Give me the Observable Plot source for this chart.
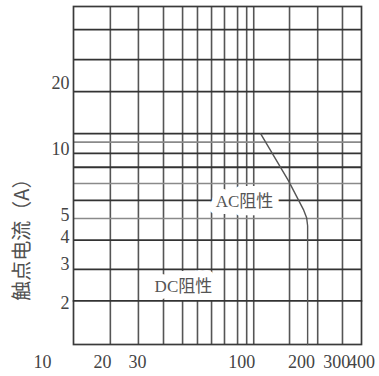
<!DOCTYPE html>
<html><head><meta charset="utf-8">
<script src="https://cdn.jsdelivr.net/npm/d3@7"></script>
<script src="https://cdn.jsdelivr.net/npm/@observablehq/plot@0.6"></script>
<style>html,body{margin:0;padding:0;background:#fff} #chart svg{display:block}</style>
</head><body><div id="chart"></div>
<script>
// Log-log relay contact load chart: x = contact voltage (V), y = contact current (A)
const xDomain = [14.3, 400];
const yDomain = [1.30, 44.6];
// grid lines
const xGrid = [21.9, 30.3, 40.5, 50.5, 60, 70.6, 82, 95.4, 106, 115, 174, 241, 321];
const yGridDark = [2.85, 3.87, 5.87, 8.3, 9.6, 11.8, 18.3, 25.6, 35];
const yGridLight = [4.86, 7.0, 10.8];
// tick labels
const xTicks = [10, 20, 30, 100, 200, 300, 400];
const yTicks = [2, 3, 4, 5, 10, 20];
// series
const acVolt = [124.5, 172, 205, 212, 214.5, 214.5];
const acAmp = [11.8, 7.2, 5.3, 4.9, 4.5, 1.3];
const dcVolt = [14.3, 400];
const dcAmp = [2.05, 2.05];
// annotations
const labels = ["AC阻性", "DC阻性"];
const labelVolt = [103.4, 51];
const labelAmp = [5.8, 2.39];
const yTitle = "触点电流（A）";
const yTitleAmp = 4.1;

const ac = acVolt.map((v, i) => ({v, a: acAmp[i]}));
const dc = dcVolt.map((v, i) => ({v, a: dcAmp[i]}));
const ann = labels.map((t, i) => ({t, v: labelVolt[i], a: labelAmp[i]}));

const chart = Plot.plot({
  width: 379, height: 376,
  marginLeft: 73, marginRight: 18, marginTop: 6, marginBottom: 32,
  x: {type: "log", domain: xDomain, axis: null},
  y: {type: "log", domain: yDomain, axis: null},
  style: {background: "#fff", fontFamily: "'Liberation Serif', serif"},
  marks: [
    Plot.ruleX(xGrid, {stroke: "#555", strokeWidth: 1.6}),
    Plot.ruleY(yGridLight, {stroke: "#8a8a8a", strokeWidth: 1.6}),
    Plot.ruleY(yGridDark, {stroke: "#333", strokeWidth: 1.8}),
    Plot.frame({stroke: "#3a3a3a", strokeWidth: 1.7}),
    Plot.text(ann, {x: "v", y: "a", text: "t", fontSize: 17,
      fontFamily: "'Liberation Serif', 'Noto Sans CJK SC', serif",
      fill: "#555", stroke: "white", strokeWidth: 14, strokeLinejoin: "round", paintOrder: "stroke"}),
    Plot.line(dc, {x: "v", y: "a", stroke: "#333", strokeWidth: 1.8}),
    Plot.line(ac, {x: "v", y: "a", stroke: "#555", strokeWidth: 1.4}),
    Plot.text(yTicks, {y: d => d, text: d => String(d), frameAnchor: "left", textAnchor: "end",
      dx: -4, fontSize: 18, fill: "#444"}),
    Plot.text(xTicks, {x: d => d, text: d => String(d), frameAnchor: "bottom", lineAnchor: "middle",
      dy: 18, fontSize: 18, fill: "#444"}),
    Plot.text([yTitle], {y: () => yTitleAmp, frameAnchor: "left", textAnchor: "middle", dx: -51,
      rotate: -90, fontSize: 20, fontFamily: "'Noto Sans CJK SC', sans-serif", fill: "#505050",
      ariaLabel: "y-title"})
  ]
});
chart.querySelectorAll('g[aria-label="y-title"] text').forEach(t => { t.style.letterSpacing = "3px"; });
document.getElementById("chart").appendChild(chart);
</script>
</body></html>
